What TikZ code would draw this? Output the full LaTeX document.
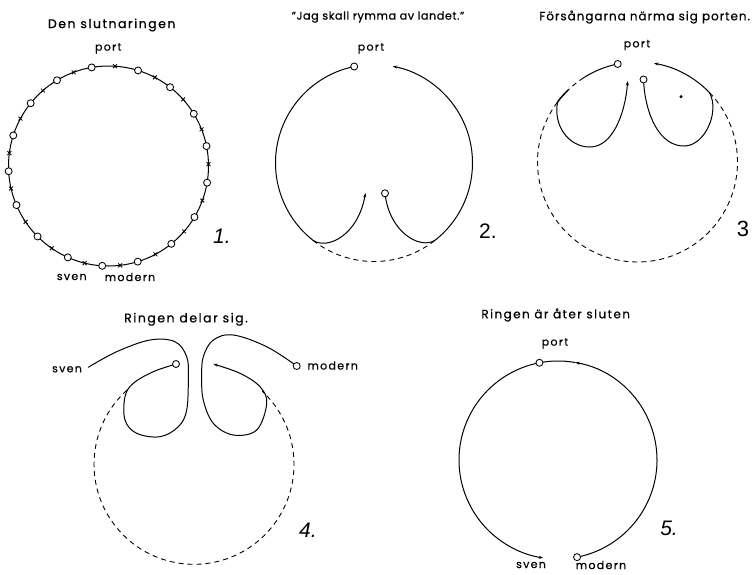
\documentclass[tikz,border=0pt]{standalone}
\usepackage{fontspec}
\setmainfont{Poppins}
\newfontfamily\fb{Poppins}[LetterSpace=5,FakeBold=0.6]
\newfontfamily\fc{Poppins}[LetterSpace=8,FakeBold=0.6]
\newfontfamily\fd{Poppins}[LetterSpace=12,FakeBold=0.6]
\newfontfamily\numfont{Liberation Sans}
\usetikzlibrary{arrows.meta,shapes.misc,calc}
\begin{document}
\begin{tikzpicture}[x=1pt,y=1pt,
  ln/.style={line width=1pt, line cap=round},
  thk/.style={line width=1.5pt, line cap=round},
  dsh/.style={line width=0.9pt, dash pattern=on 5pt off 4pt},
  mk/.style={circle, draw, line width=0.85pt, fill=white, minimum size=7pt, inner sep=0pt},
  xm/.style={cross out, draw, line width=0.85pt, minimum size=3pt, inner sep=0pt},
  arr/.style={-{Stealth[length=4.5pt,width=3pt]}},
  ttl/.style={inner sep=0pt},
  lbl/.style={font=\fd\fontsize{11}{12}\selectfont, inner sep=0pt},
  num/.style={font=\numfont\itshape\fontsize{21}{22}\selectfont, inner sep=0pt}]
\useasboundingbox (0,0) rectangle (755,-574);
\fill[white] (0,0) rectangle (755,-574);

% ---------- Panel 1 ----------
\node[ttl,font=\fd\fontsize{12.5}{14}\selectfont] (t1) at (111.7,-25) {Den slutnaringen};
\node[lbl] (port1) at (108.3,-48.3) {port};
\coordinate (c1) at (108.5,-166);
\draw[ln] (c1) circle[radius=100];
\foreach \a [count=\i] in {86.3,62.4,41.8,21.5,1,-20.2,-40.9,-62,-83.3,-103.8,-124.6,-146,-167,172.6,151.7,131,110.4}
  \node[xm] (x1-\i) at ([shift={(\a:100)}]c1) {};
\foreach \a [count=\i] in {99.7,72.8,52,31.5,11.5,-9.6,-30.7,-51.1,-73,-93.6,-114,-135.2,-157,-177,162.2,141.1,121}
  \node[mk] (m1-\i) at ([shift={(\a:100)}]c1) {};
\node[lbl] (sven1) at (71.7,-277) {sven};
\node[lbl] (modern1) at (130,-277) {modern};
\node[num] (n1) at (222,-236) {1.};

% ---------- Panel 2 ----------
\node[ttl,font=\fb\fontsize{11.2}{12}\selectfont] (t2) at (378,-17) {”Jag skall rymma av landet.”};
\node[lbl] (port2) at (371,-48.3) {port};
\coordinate (c2) at (374,-163);
\coordinate (p2a) at ([shift={(101.6:98.5)}]c2);
\coordinate (j2l) at ([shift={(231.8:98.5)}]c2);
\coordinate (j2r) at ([shift={(-51.6:98.5)}]c2);
\coordinate (a2i) at (365.5,-193);
\coordinate (p2b) at (385,-193.3);
\draw[ln,arr] (p2a) arc[start angle=101.6,end angle=231.8,radius=98.5]
  .. controls (328,-250) and (358,-235) .. (a2i);
\draw[ln,arr] (p2b) .. controls (389,-232) and (420,-250) .. (j2r)
  arc[start angle=-51.6,end angle=79.1,radius=98.5];
\draw[dsh] (j2l) arc[start angle=231.8,end angle=308.4,radius=98.5];
\node[mk] (m2a) at (p2a) {};
\node[mk] (m2b) at (p2b) {};
\node[num,font=\numfont\fontsize{21}{22}\selectfont] (n2) at (488,-231) {2.};

% ---------- Panel 3 ----------
\node[ttl,font=\fc\fontsize{12}{13}\selectfont] (t3) at (644.7,-17) {Försångarna närma sig porten.};
\node[lbl] (port3) at (637,-45) {port};
\coordinate (c3) at (637.5,-162);
\coordinate (p3a) at ([shift={(101.4:100)}]c3);
\coordinate (q3a) at ([shift={(122.6:100)}]c3);
\coordinate (q3b) at ([shift={(134:100)}]c3);
\coordinate (j3l) at ([shift={(143:100)}]c3);
\coordinate (j3r) at ([shift={(44:100)}]c3);
\coordinate (a3i) at (627.7,-81);
\coordinate (p3b) at (643.5,-79.5);
\draw[dsh] (j3r) arc[start angle=44,end angle=-220,radius=100];
\draw[ln] (p3a) arc[start angle=101.4,end angle=122.6,radius=100];
\draw[dsh] (q3a) arc[start angle=122.6,end angle=134,radius=100];
\draw[thk] (q3b) arc[start angle=134,end angle=143,radius=100];
\draw[ln,arr] (j3l) .. controls (553,-125) and (568,-147) .. (590,-147)
  .. controls (612,-147) and (625,-115) .. (a3i);
\draw[ln,arr] (p3b) .. controls (645,-115) and (660,-147) .. (685,-146)
  .. controls (705,-145) and (720,-112) .. (j3r)
  arc[start angle=44,end angle=80.5,radius=100];
\node[mk] (m3a) at (p3a) {};
\node[mk] (m3b) at (p3b) {};
\node[circle,fill,inner sep=0pt,minimum size=3.4pt] (d3) at (681,-96.7) {};
\node[num,font=\numfont\fontsize{22}{22}\selectfont] (n3) at (743,-229) {3};

% ---------- Panel 4 ----------
\node[ttl,font=\fd\fontsize{12.5}{14}\selectfont] (t4) at (186,-319.3) {Ringen delar sig.};
\node[lbl] (sven4) at (67,-369.3) {sven};
\node[lbl] (modern4) at (332.7,-365.5) {modern};
\coordinate (c4) at (194,-464.3);
\coordinate (s4) at (88.3,-367.3);
\coordinate (p4a) at (176,-364);
\coordinate (p4b) at (296.7,-366);
\coordinate (a4) at (213.3,-364);
\draw[dsh] ([shift={(132.2:100)}]c4) arc[start angle=132.2,end angle=407,radius=100];
\draw[ln] plot[smooth,tension=0.6] coordinates {(s4) (116.7,-351.7) (150,-340) (175,-341.7) (186.7,-356.7) (188.3,-376.7) (186.7,-410) (178.3,-426.7) (160,-436.7) (136.7,-433.3) (125,-420) (125,-396.7) (133.3,-383.3) (153.3,-371.7) (p4a)};
\draw[ln,arr] plot[smooth,tension=0.6] coordinates {(p4b) (266.7,-346.7) (233.3,-335) (213.3,-340) (203.3,-356.7) (201.7,-376.7) (203.3,-400) (213.3,-423.3) (233.3,-435) (256.7,-430) (266.7,-403.3) (260,-386.7) (240,-373.3) (a4)};
\node[mk] (m4a) at (p4a) {};
\node[mk] (m4b) at (p4b) {};
\node[num] (n4) at (308,-530) {4.};

% ---------- Panel 5 ----------
\node[ttl,font=\fd\fontsize{12}{14}\selectfont] (t5) at (555.7,-315) {Ringen är åter sluten};
\node[lbl] (port5) at (555,-343.3) {port};
\coordinate (c5) at (558,-460);
\coordinate (p5m) at ([shift={(-78.9:99)}]c5);
\coordinate (a5t) at ([shift={(80:99)}]c5);
\coordinate (p5port) at ([shift={(100.8:99)}]c5);
\draw[ln,arr] (p5m) arc[start angle=-78.9,end angle=80,radius=99];
\draw[ln,arr] (a5t) arc[start angle=80,end angle=261.4,radius=99];
\node[mk] (m5a) at (p5port) {};
\node[mk] (m5b) at (p5m) {};
\node[lbl] (sven5) at (531,-565) {sven};
\node[lbl] (modern5) at (601,-565) {modern};
\node[num] (n5) at (669,-528) {5.};
\end{tikzpicture}
\end{document}
